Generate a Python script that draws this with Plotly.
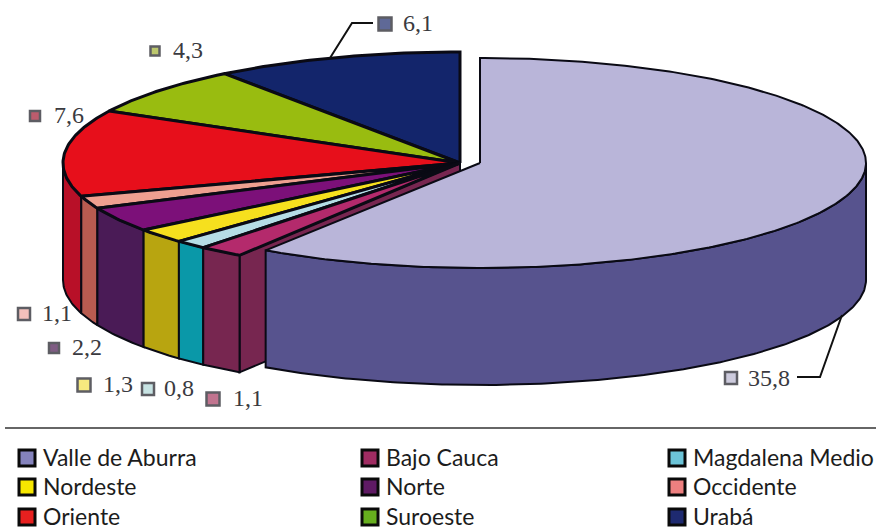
import math
import plotly.graph_objects as go

regions = ["Valle de Aburra", "Bajo Cauca", "Magdalena Medio", "Nordeste", "Norte",
           "Occidente", "Oriente", "Suroeste", "Urabá"]
values = [35.8, 1.1, 0.8, 1.3, 2.2, 1.1, 7.6, 4.3, 6.1]

top_colors = ["#b9b5d9", "#b42a6c", "#b5dde6", "#f6e01e", "#7c1079", "#ee9f90", "#e70f1b", "#99bc10", "#13256b"]
wall_colors = ["#57538e", "#772650", "#0a98a8", "#b8a510", "#4a1b56", "#b85b50", "#b81028", "#6f8a10", "#0d1a50"]
label_fill = ["#b8b6d0", "#a83a60", "#b0d8d8", "#f3e04a", "#4a1850", "#eea8a0", "#a01830", "#a0b030", "#1c2a6c"]
legend_fill = ["#8583bd", "#a02c62", "#6cc4d8", "#f6e600", "#5f1a64", "#ee8080", "#e8201f", "#66ae1e", "#1e2a70"]

label_x = [731, 213, 148, 84, 54, 24, 35, 155, 385]
label_y = [378, 399, 389, 385, 348, 314, 116, 51, 24]
label_size = [12, 13, 12, 13, 10, 12, 10, 9, 13]
label_text_x = [746, 231, 162, 101, 70, 40, 52, 171, 401]
label_text_y = [378, 398, 388, 384, 347, 313, 115, 50, 23]

legend_x = [27, 370, 677]
legend_y = [458, 487, 517]

MAIN = dict(cx=480, cy=163, rx=386, ry=105)
REST = dict(cx=460, cy=163, rx=397, ry=111)
DEPTH = 117

fig = go.Figure()


def pt(g, a, dz=0):
    r = math.radians(a)
    return g["cx"] + g["rx"] * math.sin(r), g["cy"] - g["ry"] * math.cos(r) + dz


def arc(g, a0, a1, dz=0):
    n = max(2, int(abs(a1 - a0) * 1.5) + 1)
    return [pt(g, a0 + (a1 - a0) * i / (n - 1), dz) for i in range(n)]


def poly(points, color, width=2.0):
    fig.add_trace(go.Scatter(x=[p[0] for p in points] + [points[0][0]],
                             y=[p[1] for p in points] + [points[0][1]],
                             mode="lines", fill="toself", fillcolor=color,
                             line=dict(color="#0a0a14", width=width),
                             hoverinfo="skip", showlegend=False))


def wall(g, a0, a1, color):
    a0b, a1b = max(a0, 90), min(a1, 270)
    if a1b <= a0b:
        return
    poly(arc(g, a0b, a1b) + arc(g, a1b, a0b, DEPTH), color)


total = sum(values)
angles = [0]
for v in values:
    angles.append(angles[-1] + v / total * 360)

# Radial face of the first small slice, exposed by the pulled-out main slice.
first = angles[1]
apex = (REST["cx"], REST["cy"])
edge = pt(REST, first)
poly([apex, edge, (edge[0], edge[1] + DEPTH), (apex[0], apex[1] + DEPTH)], wall_colors[1])

# Outer walls, back to front.
for i in range(len(values) - 1, 0, -1):
    wall(REST, angles[i], angles[i + 1], wall_colors[i])

# Tops of the small slices.
for i in range(len(values) - 1, 0, -1):
    poly([apex] + arc(REST, angles[i], angles[i + 1]), top_colors[i], 3)

# Main slice, pulled out to the right.
wall(MAIN, angles[0], angles[1], wall_colors[0])
poly([(MAIN["cx"], MAIN["cy"])] + arc(MAIN, angles[0], angles[1]), top_colors[0])

leaders = [([797, 820, 842], [377, 377, 315]), ([330, 352, 373], [58, 23, 23])]
for lx, ly in leaders:
    fig.add_trace(go.Scatter(x=lx, y=ly, mode="lines", line=dict(color="#111", width=2),
                             hoverinfo="skip", showlegend=False))

fig.add_trace(go.Scatter(x=label_x, y=label_y, mode="markers", hoverinfo="skip", showlegend=False,
                         marker=dict(symbol="square", size=label_size, color=label_fill,
                                     line=dict(color="#1a1a22", width=2.5))))
fig.add_trace(go.Scatter(x=[legend_x[i % 3] for i in range(9)],
                         y=[legend_y[i // 3] for i in range(9)],
                         mode="markers", hoverinfo="skip", showlegend=False,
                         marker=dict(symbol="square", size=16, color=legend_fill,
                                     line=dict(color="#0a0a0a", width=3))))

annotations = []
for v, tx, ty in zip(values, label_text_x, label_text_y):
    annotations.append(dict(x=tx, y=ty, text=f"{v:.1f}".replace(".", ","), showarrow=False,
                            xanchor="left", yanchor="middle",
                            font=dict(family="Liberation Serif", size=24, color="#3a3a40")))
for i, name in enumerate(regions):
    annotations.append(dict(x=legend_x[i % 3] + 14, y=legend_y[i // 3] - 1, text=name, showarrow=False,
                            xanchor="left", yanchor="middle",
                            font=dict(family="Lato", size=23, color="#1c1c1c")))

fig.update_layout(
    width=876, height=530, margin=dict(l=0, r=0, t=0, b=0),
    paper_bgcolor="white", plot_bgcolor="white", showlegend=False,
    xaxis=dict(range=[0, 876], visible=False, fixedrange=True),
    yaxis=dict(range=[530, 0], visible=False, fixedrange=True),
    shapes=[dict(type="line", xref="x", yref="y", x0=5, x1=876, y0=428, y1=428,
                 line=dict(color="#333", width=1.5))],
    annotations=annotations,
)
fig.write_html("out.html", config=dict(displayModeBar=False),
               post_script="document.body.style.margin='0';document.body.style.overflow='hidden';")
